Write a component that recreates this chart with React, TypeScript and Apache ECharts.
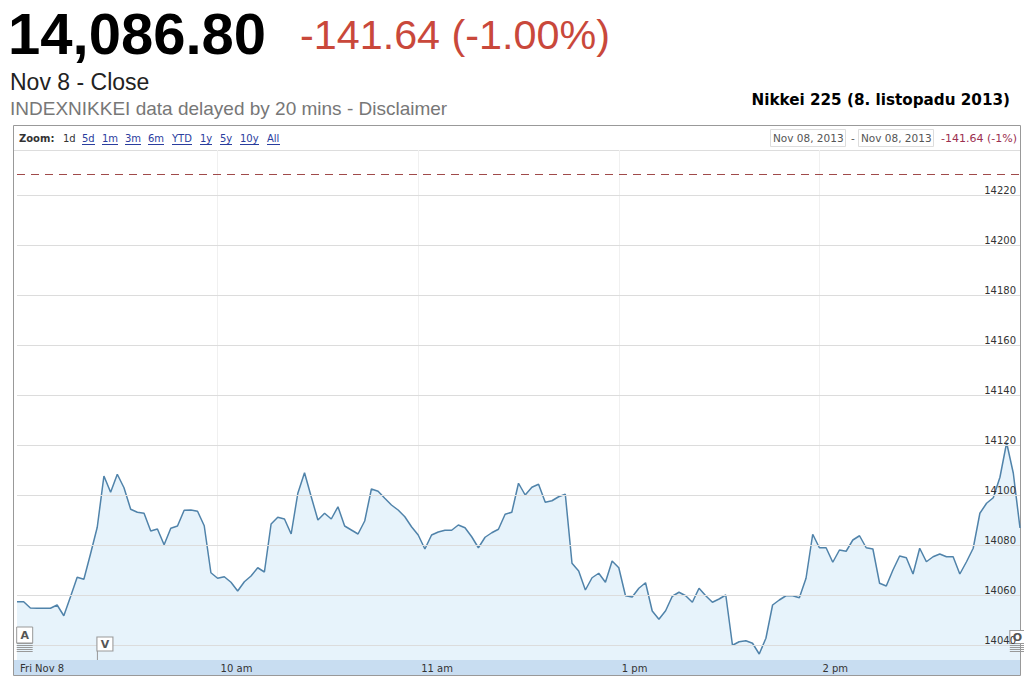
import { useEffect, useRef } from 'react';
import * as echarts from 'echarts';

// ---- data ----
const SESSIONS: [string, string][] = [['09:00', '11:28'], ['12:30', '15:00']];
const STEP_MIN = 2;

const values: number[] = [
  14057.3, 14057.3, 14054.8, 14054.7, 14054.7, 14054.7, 14056.0, 14051.7, 14059.3, 14067.1,
  14066.3, 14076.5, 14087.1, 14107.6, 14101.1, 14108.3, 14102.9, 14094.3, 14093.1, 14092.7,
  14085.6, 14086.4, 14080.1, 14086.7, 14087.6, 14093.9, 14094.0, 14093.5, 14087.7, 14068.9,
  14066.7, 14067.3, 14065.1, 14061.6, 14065.3, 14067.6, 14070.9, 14069.2, 14088.4, 14091.1,
  14090.4, 14084.4, 14100.7, 14108.9, 14099.3, 14090.0, 14092.7, 14090.4, 14095.3, 14087.6,
  14086.0, 14084.4, 14089.6, 14102.4, 14101.5, 14098.7, 14096.0, 14094.0, 14091.3, 14087.3,
  14084.0, 14078.4, 14084.0, 14085.2, 14085.9, 14085.9, 14088.0, 14086.9, 14083.3, 14078.9,
  14083.1, 14084.9, 14086.3, 14092.3, 14093.1, 14104.7, 14100.0, 14103.1, 14104.3, 14097.1,
  14097.7, 14099.3, 14100.3, 14072.7, 14069.6, 14062.0, 14066.9, 14068.7, 14065.1, 14073.6,
  14070.9, 14059.7, 14059.2, 14062.7, 14064.9, 14053.6, 14050.3, 14053.7, 14059.5, 14061.1,
  14059.7, 14057.1, 14062.7, 14059.7, 14057.1, 14058.4, 14060.0, 14039.9, 14041.3, 14041.7,
  14040.7, 14036.4, 14042.7, 14056.0, 14058.0, 14059.7, 14059.7, 14058.9, 14066.7, 14084.3,
  14078.9, 14078.9, 14073.1, 14078.0, 14077.5, 14082.0, 14083.7, 14078.9, 14078.4, 14064.7,
  14063.6, 14070.0, 14075.6, 14074.9, 14068.4, 14078.7, 14073.3, 14075.3, 14076.4, 14075.3,
  14075.3, 14068.4, 14073.3, 14078.7, 14092.7, 14096.7, 14098.9, 14107.1, 14120.9, 14108.7,
  14086.8,
];

const tickTimes = ['09:00', '10:00', '11:00', '13:00', '14:00'];
const tickLabels = ['Fri Nov 8', '10 am', '11 am', '1 pm', '2 pm'];
const yTicks = [14040, 14060, 14080, 14100, 14120, 14140, 14160, 14180, 14200, 14220];
const prevClose = 14228.44;
const lastPrice = '14,086.80';
const changeText = '-141.64 (-1.00%)';
const rangeStart = 'Nov 08, 2013';
const rangeEnd = 'Nov 08, 2013';
const rangeChange = '-141.64 (-1%)';
const zoomLinks = ['1d', '5d', '1m', '3m', '6m', 'YTD', '1y', '5y', '10y', 'All'];
const flagTimes = ['09:02', '09:26', '14:58'];
const flagTitles = ['A', 'V', 'O'];

function buildTimes(): string[] {
  const out: string[] = [];
  for (const [s, e] of SESSIONS) {
    const toMin = (t: string) => parseInt(t.slice(0, 2)) * 60 + parseInt(t.slice(3));
    for (let m = toMin(s); m <= toMin(e); m += STEP_MIN) {
      const h = Math.floor(m / 60);
      const mm = m % 60;
      out.push(String(h).padStart(2, '0') + ':' + String(mm).padStart(2, '0'));
    }
  }
  return out;
}
const times = buildTimes();

const SANS = 'Liberation Sans, Arial, sans-serif';
const VERD = 'DejaVu Sans, Verdana, sans-serif';

export default function App() {
  const ref = useRef<HTMLDivElement>(null);
  useEffect(() => {
    const chart = echarts.init(ref.current!, null, { renderer: 'svg' });

    const linkX = [63, 82, 102, 125, 148, 172, 200, 220, 240, 267];
    const linkW = [13, 13, 16, 16, 16, 20, 12, 12, 19, 13];

    const graphic: any[] = [
      { type: 'text', x: 8, y: 33, style: { text: lastPrice, fill: '#000', fontSize: 58, fontWeight: 'bold', fontFamily: SANS, align: 'left', verticalAlign: 'middle' } },
      { type: 'text', x: 300, y: 35, style: { text: changeText, fill: '#c9483b', fontSize: 41.3, fontFamily: SANS, align: 'left', verticalAlign: 'middle' } },
      { type: 'text', x: 10, y: 82, style: { text: 'Nov 8 - Close', fill: '#222', fontSize: 23, fontFamily: SANS, align: 'left', verticalAlign: 'middle' } },
      { type: 'text', x: 10, y: 108, style: { text: 'INDEXNIKKEI data delayed by 20 mins - Disclaimer', fill: '#777', fontSize: 19, fontFamily: SANS, align: 'left', verticalAlign: 'middle' } },
      { type: 'text', x: 1010, y: 100, style: { text: 'Nikkei 225 (8. listopadu 2013)', fill: '#000', fontSize: 15.2, fontWeight: 'bold', fontFamily: VERD, align: 'right', verticalAlign: 'middle' } },
      // frame
      { type: 'rect', shape: { x: 13.5, y: 125.5, width: 1007, height: 550 }, style: { fill: 'transparent', stroke: '#999', lineWidth: 1 } },
      { type: 'line', shape: { x1: 14, y1: 150.5, x2: 1020, y2: 150.5 }, style: { stroke: '#ddd', lineWidth: 1 } },
      // x band
      { type: 'rect', z: -1, shape: { x: 14, y: 660, width: 1006, height: 15 }, style: { fill: '#c8ddf1' } },
      // zoom row
      { type: 'text', x: 19, y: 138, style: { text: 'Zoom:', fill: '#333', fontSize: 10, fontWeight: 'bold', fontFamily: VERD, align: 'left', verticalAlign: 'middle' } },
      ...zoomLinks.map((t, i) => ({ type: 'text', x: linkX[i], y: 138, style: { text: t, fill: i === 0 ? '#333' : '#2a3d9e', fontSize: 10, fontFamily: VERD, align: 'left', verticalAlign: 'middle' } })),
      ...zoomLinks.slice(1).map((_, j) => ({ type: 'line', shape: { x1: linkX[j + 1], y1: 144.5, x2: linkX[j + 1] + linkW[j + 1], y2: 144.5 }, style: { stroke: '#2a3d9e', lineWidth: 1 } })),
      // range boxes
      { type: 'rect', shape: { x: 770.5, y: 129.5, width: 75, height: 17 }, style: { fill: '#fff', stroke: '#ddd', lineWidth: 1 } },
      { type: 'text', x: 773, y: 138, style: { text: rangeStart, fill: '#555', fontSize: 10.5, fontFamily: VERD, align: 'left', verticalAlign: 'middle' } },
      { type: 'text', x: 853, y: 138, style: { text: '-', fill: '#555', fontSize: 10.5, fontFamily: VERD, align: 'center', verticalAlign: 'middle' } },
      { type: 'rect', shape: { x: 858.5, y: 129.5, width: 75, height: 17 }, style: { fill: '#fff', stroke: '#ddd', lineWidth: 1 } },
      { type: 'text', x: 861, y: 138, style: { text: rangeEnd, fill: '#555', fontSize: 10.5, fontFamily: VERD, align: 'left', verticalAlign: 'middle' } },
      { type: 'text', x: 1017, y: 138, style: { text: rangeChange, fill: '#9c3050', fontSize: 11, fontFamily: VERD, align: 'right', verticalAlign: 'middle' } },
    ];

    const isTick = (_: number, v: string) => v !== '09:00' && tickTimes.includes(v);
    const stackPath = 'path://M0,0H16V1H0Z M0,2H16V3H0Z M0,4H16V5H0Z M0,6H16V7H0Z M0,8H16V9H0Z';
    const flagLabel = (t: string) => ({ show: true, position: 'inside', formatter: t, color: '#555', fontSize: 11, fontWeight: 'bold', fontFamily: VERD });
    const boxStyle = { color: '#fff', borderColor: '#999', borderWidth: 1 };

    const markPointData = [
      { coord: [flagTimes[0], 14044], symbol: 'rect', symbolSize: [16, 16], symbolOffset: [1, 0], itemStyle: boxStyle, label: flagLabel(flagTitles[0]) },
      { coord: [flagTimes[0], 14039], symbol: stackPath, symbolSize: [16, 9], symbolOffset: [1, 0], itemStyle: { color: '#999' }, label: { show: false } },
      { coord: [flagTimes[1], 14040.4], symbol: 'rect', symbolSize: [16, 14], symbolOffset: [1, 0], itemStyle: boxStyle, label: flagLabel(flagTitles[1]) },
      { coord: [flagTimes[1], 14035.8], symbol: 'path://M0,0H1V9H0Z', symbolSize: [1, 9], symbolOffset: [-6.5, 0], itemStyle: { color: '#999' }, label: { show: false } },
      { coord: [flagTimes[2], 14043.2], symbol: 'rect', symbolSize: [15, 13], symbolOffset: [4, 0], itemStyle: boxStyle, label: flagLabel(flagTitles[2]) },
      { coord: [flagTimes[2], 14039], symbol: stackPath, symbolSize: [15, 9], symbolOffset: [4, 0], itemStyle: { color: '#999' }, label: { show: false } },
    ];

    const option: any = {
      animation: false,
      backgroundColor: '#fff',
      grid: { left: 17, right: 4, top: 150, bottom: 17 },
      xAxis: {
        type: 'category',
        data: times,
        boundaryGap: false,
        axisLine: { show: false },
        axisTick: { show: true, inside: true, length: 4, interval: isTick, lineStyle: { color: '#999' } },
        axisLabel: {
          interval: (_: number, v: string) => tickTimes.includes(v),
          formatter: (v: string) => tickLabels[tickTimes.indexOf(v)] ?? '',
          align: 'left', margin: 3, padding: [0, 0, 0, 3],
          color: '#333', fontSize: 10, fontFamily: VERD,
        },
        splitLine: { show: true, interval: isTick, lineStyle: { color: '#f0f0f0', width: 1 } },
      },
      yAxis: { type: 'value', min: 14034, max: 14238, show: false },
      series: [
        {
          type: 'line',
          data: values,
          showSymbol: false,
          lineStyle: { color: '#5083aa', width: 1.5 },
          areaStyle: { color: '#e7f3fb', opacity: 1 },
          markLine: {
            silent: true,
            symbol: ['none', 'none'],
            data: [
              ...yTicks.map((v) => ({
                yAxis: v,
                lineStyle: { color: '#dcdcdc', width: 1, type: 'solid' },
                label: { show: true, position: 'insideEndTop', formatter: String(v), color: '#333', fontSize: 10, fontFamily: VERD, distance: [4, 0] },
              })),
              { yAxis: prevClose, lineStyle: { color: '#a04a4a', width: 1, type: [8, 6] }, label: { show: false } },
            ],
          },
          markPoint: { silent: true, data: markPointData },
        },
      ],
      graphic,
    };
    chart.setOption(option);
    return () => chart.dispose();
  }, []);
  return <div ref={ref} style={{ position: 'absolute', left: 0, top: 0, width: 1024, height: 677, background: '#fff' }} />;
}
